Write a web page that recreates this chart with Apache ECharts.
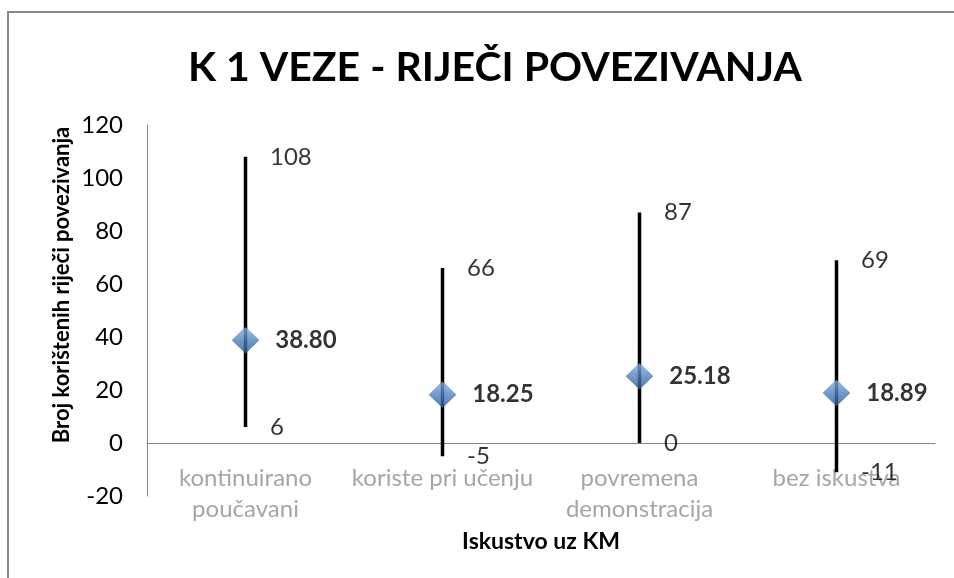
<!DOCTYPE html>
<html><head><meta charset="utf-8">
<script src="https://cdn.jsdelivr.net/npm/echarts@6/dist/echarts.min.js"></script>
<style>html,body{margin:0;padding:0;background:#fff}#c{width:954px;height:578px}</style>
</head><body><div id="c"></div>
<script>
const titleText = 'K 1 VEZE - RIJEČI POVEZIVANJA';
const xAxisTitle = 'Iskustvo uz KM';
const yAxisTitle = 'Broj korištenih riječi povezivanja';
const categories = ['kontinuirano\npoučavani', 'koriste pri učenju', 'povremena\ndemonstracija', 'bez iskustva'];
const maxValues = [108, 66, 87, 69];
const minValues = [6, -5, 0, -11];
const meanValues = [38.80, 18.25, 25.18, 18.89];
const yMin = -20, yMax = 120, yInterval = 20;

const FONT = 'Lato, "Open Sans", sans-serif';
const gridTop = 125, gridBottom = 82, H = 578;
const plotH = H - gridTop - gridBottom;
// distance from grid bottom up to the value-0 line
const zeroOffset = plotH * (0 - yMin) / (yMax - yMin);

const chart = echarts.init(document.getElementById('c'));
const rangeData = categories.map((c, i) => [i, minValues[i], maxValues[i]]);

chart.setOption({
  animation: false,
  backgroundColor: '#fff',
  grid: { left: 147, right: 19, top: gridTop, bottom: gridBottom, containLabel: false, outerBoundsMode: 'none' },
  graphic: [
    { type: 'polyline', silent: true, shape: { points: [[8, 578], [8, 12], [954, 12]] },
      style: { stroke: '#888888', lineWidth: 2, fill: null } },
    { type: 'text', x: 495, y: 68, style: { text: titleText, font: 'bold 41px ' + FONT,
      fill: '#000', align: 'center', verticalAlign: 'middle' } },
    { type: 'text', x: 62, y: 285, rotation: Math.PI / 2, style: { text: yAxisTitle,
      font: 'bold 22px ' + FONT, fill: '#000', align: 'center', verticalAlign: 'middle' } }
  ],
  xAxis: {
    type: 'category', data: categories, boundaryGap: true, offset: -zeroOffset,
    axisLine: { onZero: false, lineStyle: { color: '#868686', width: 1 } },
    axisTick: { show: false },
    axisLabel: { color: '#a6a6a6', fontFamily: FONT, fontSize: 24, lineHeight: 31, margin: 20, interval: 0 },
    name: xAxisTitle, nameLocation: 'middle', nameGap: 82,
    nameTextStyle: { fontFamily: FONT, fontWeight: 'bold', fontSize: 23, color: '#000' },
    splitLine: { show: false }
  },
  yAxis: {
    type: 'value', min: yMin, max: yMax, interval: yInterval,
    axisLine: { show: true, lineStyle: { color: '#868686', width: 1 } },
    axisTick: { show: false },
    axisLabel: { color: '#000', fontFamily: FONT, fontSize: 24, margin: 24 },
    splitLine: { show: false }
  },
  series: [
    {
      type: 'custom', data: rangeData, z: 2,
      renderItem: function (params, api) {
        const x = api.value(0);
        const p1 = api.coord([x, api.value(1)]);
        const p2 = api.coord([x, api.value(2)]);
        return { type: 'line', shape: { x1: p1[0], y1: p1[1], x2: p2[0], y2: p2[1] },
          style: { stroke: '#000', lineWidth: 3.5 } };
      }
    },
    {
      type: 'scatter', data: maxValues, symbolSize: 1, itemStyle: { color: 'rgba(0,0,0,0)' }, z: 3,
      label: { show: true, position: 'right', distance: 24, color: '#000', fontFamily: FONT, fontSize: 24 }
    },
    {
      type: 'scatter', data: minValues, symbolSize: 1, itemStyle: { color: 'rgba(0,0,0,0)' }, z: 3,
      label: { show: true, position: 'right', distance: 24, color: '#000', fontFamily: FONT, fontSize: 24 }
    },
    {
      type: 'scatter', data: meanValues, symbol: 'diamond', symbolSize: [27, 26], z: 4,
      itemStyle: {
        color: new echarts.graphic.LinearGradient(0, 0, 0, 1, [
          { offset: 0, color: '#8cb3e0' }, { offset: 0.5, color: '#4f81bd' }, { offset: 1, color: '#2c5b92' }
        ]),
        borderColor: '#3a6aa3', borderWidth: 0.5
      },
      label: { show: true, position: 'right', distance: 16, color: '#000', fontFamily: FONT,
        fontSize: 24, fontWeight: 'bold', formatter: p => p.value.toFixed(2) }
    }
  ]
});
</script></body></html>
